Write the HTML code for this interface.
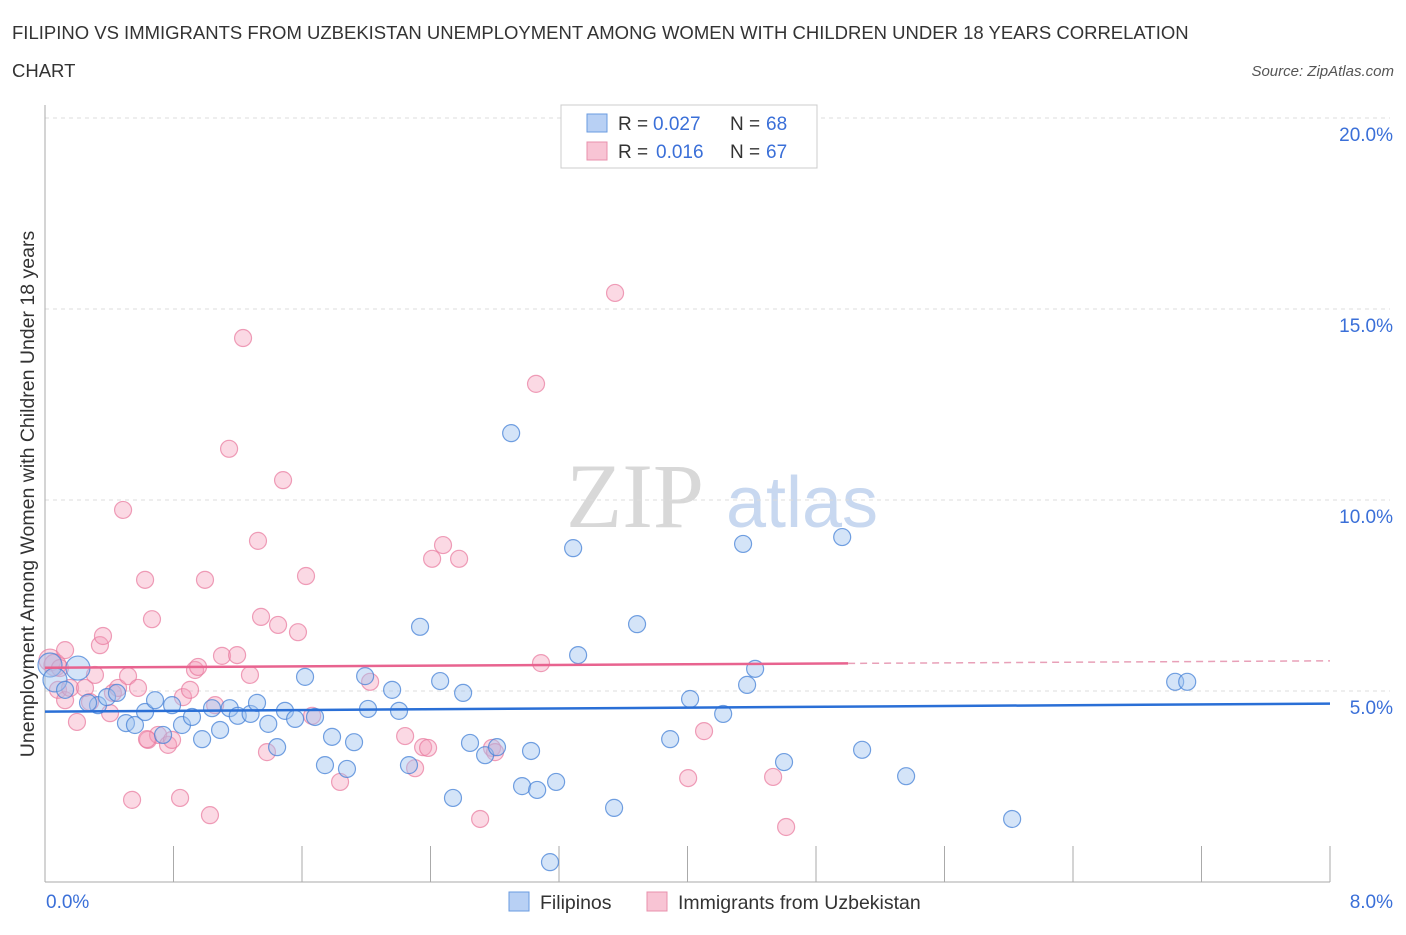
<!DOCTYPE html>
<html><head><meta charset="utf-8"><style>
body{margin:0;background:#fff;font-family:"Liberation Sans",sans-serif;}
</style></head><body>
<svg id="chart" width="1406" height="930" font-family="Liberation Sans, sans-serif">
<text x="12" y="39" font-size="18.5" fill="#333">FILIPINO VS IMMIGRANTS FROM UZBEKISTAN UNEMPLOYMENT AMONG WOMEN WITH CHILDREN UNDER 18 YEARS CORRELATION</text>
<text x="12" y="77" font-size="18.5" fill="#333">CHART</text>
<text x="1394" y="76" font-size="15" fill="#555" font-style="italic" text-anchor="end">Source: ZipAtlas.com</text>
<text x="635" y="527" font-size="92" fill="#d8d8d8" style="font-family:'Liberation Serif',serif" text-anchor="middle">ZIP</text>
<text x="802" y="527" font-size="72" fill="#c8d8f0" text-anchor="middle">atlas</text>
<g id="grid"></g>
<g id="axes"></g>
<g id="pts"></g>
<g id="trends"></g>
<text transform="translate(34,494) rotate(-90)" font-size="19.5" fill="#333" text-anchor="middle">Unemployment Among Women with Children Under 18 years</text>
<g>
<rect x="561" y="105" width="256" height="63" fill="#fff" stroke="#ccc"/>
<rect x="587" y="114" width="20" height="18" fill="#b8d0f4" stroke="#6a9be0"/>
<text x="618" y="130" font-size="19" fill="#333">R =</text>
<text x="653" y="130" font-size="19" fill="#3a6fd8">0.027</text>
<text x="730" y="130" font-size="19" fill="#333">N =</text>
<text x="766" y="130" font-size="19" fill="#3a6fd8">68</text>
<rect x="587" y="142" width="20" height="18" fill="#f8c4d4" stroke="#e890ac"/>
<text x="618" y="158" font-size="19" fill="#333">R =</text>
<text x="656" y="158" font-size="19" fill="#3a6fd8">0.016</text>
<text x="730" y="158" font-size="19" fill="#333">N =</text>
<text x="766" y="158" font-size="19" fill="#3a6fd8">67</text>
</g>
<g>
<rect x="509" y="892" width="20" height="19" fill="#b8d0f4" stroke="#6a9be0"/>
<text x="540" y="909" font-size="19.5" fill="#333">Filipinos</text>
<rect x="647" y="892" width="20" height="19" fill="#f8c4d4" stroke="#e890ac"/>
<text x="678" y="909" font-size="19.5" fill="#333">Immigrants from Uzbekistan</text>
</g>
</svg>
<script>
const yTicks=[5,10,15,20];
const yTickLabels=["5.0%","10.0%","15.0%","20.0%"];
const xTickLabels=["0.0%","8.0%"];
const blueX=[0.031,0.062,0.125,0.205,0.33,0.268,0.386,0.448,0.504,0.56,0.623,0.685,0.735,0.791,0.853,0.915,0.978,1.04,1.09,1.15,1.20,1.28,1.32,1.39,1.445,1.494,1.557,1.619,1.681,1.743,1.787,1.88,1.924,1.993,2.011,2.161,2.204,2.266,2.335,2.46,2.54,2.603,2.646,2.74,2.814,2.902,2.97,3.026,3.064,3.144,3.182,3.288,3.319,3.543,3.686,3.892,4.016,4.222,4.346,4.371,4.421,4.601,4.963,5.087,5.361,6.021,7.036,7.111];
const blueY=[5.68,5.29,5.03,5.60,4.63,4.69,4.84,4.95,4.16,4.11,4.45,4.76,3.85,4.63,4.11,4.32,3.74,4.55,3.98,4.55,4.35,4.40,4.69,4.14,3.53,4.48,4.27,5.37,4.32,3.06,3.80,2.96,3.66,5.39,4.53,5.03,4.48,3.06,6.68,5.26,2.20,4.95,3.64,3.32,3.53,11.75,2.51,3.43,2.41,0.52,2.62,8.74,5.94,1.94,6.75,3.74,4.79,4.40,8.85,5.16,5.58,3.14,9.03,3.46,2.77,1.65,5.24,5.24];
const pinkX=[0.031,0.062,0.125,0.081,0.125,0.156,0.199,0.249,0.28,0.311,0.342,0.361,0.405,0.423,0.455,0.486,0.517,0.542,0.579,0.623,0.641,0.666,0.704,0.766,0.791,0.841,0.859,0.903,0.934,0.953,0.996,1.027,1.059,1.102,1.146,1.196,1.233,1.276,1.326,1.345,1.382,1.451,1.482,1.575,1.625,1.663,1.837,2.024,2.242,2.304,2.354,2.385,2.41,2.478,2.578,2.709,2.783,2.802,3.057,3.088,3.549,4.004,4.103,4.533,4.614,0.093,0.635];
const pinkY=[5.81,5.68,6.07,5.03,4.76,5.08,4.19,5.08,4.71,5.42,6.20,6.44,4.42,4.95,5.08,9.74,5.39,2.15,5.08,7.91,3.72,6.88,3.85,3.59,3.72,2.20,4.84,5.03,5.55,5.63,7.91,1.75,4.63,5.92,11.34,5.94,14.24,5.42,8.93,6.94,3.40,6.73,10.52,6.54,8.01,4.35,2.62,5.24,3.82,2.98,3.53,3.51,8.46,8.82,8.46,1.65,3.51,3.40,13.04,5.73,15.42,2.72,3.95,2.75,1.44,5.60,3.74];
const blueTrend=[4.46,4.67];
const pinkTrend=[5.61,5.79];
const pinkSolidEnd=5.0;

const X0=45,X1=1330,Y0=882;
function sx(v){return X0+v*(X1-X0)/8;}
function sy(v){return Y0-v*38.2;}
const NS="http://www.w3.org/2000/svg";
function mk(tag,attrs,parent){const e=document.createElementNS(NS,tag);for(const k in attrs)e.setAttribute(k,attrs[k]);document.getElementById(parent).appendChild(e);return e;}

for(let i=0;i<yTicks.length;i++){
  const g=mk('line',{x1:X0,x2:1390,y1:sy(yTicks[i]),y2:sy(yTicks[i]),stroke:'#ddd','stroke-dasharray':'4,4'},'grid');
  
  
  const t=mk('text',{x:1393,y:sy(yTicks[i])+23,'text-anchor':'end','font-size':19,fill:'#3a6fd8'},'grid');
  t.textContent=yTickLabels[i];
  
  
}
const topG=mk('line',{x1:X0,x2:1390,y1:118,y2:118,stroke:'#ddd','stroke-dasharray':'4,4'},'grid');


const ya=mk('line',{x1:X0,x2:X0,y1:105,y2:Y0,stroke:'#aaa'},'axes');


const xa=mk('line',{x1:X0,x2:X1,y1:Y0,y2:Y0,stroke:'#aaa'},'axes');


for(let i=0;i<=10;i++){
  const xx=X0+i*(X1-X0)/10;
  const tk=mk('line',{x1:xx,x2:xx,y1:Y0,y2:Y0-36,stroke:'#aaa'},'axes');
  
  
}
const xl0=mk('text',{x:46,y:908,'font-size':19,fill:'#3a6fd8'},'axes');xl0.textContent=xTickLabels[0];


const xl1=mk('text',{x:1393,y:908,'font-size':19,fill:'#3a6fd8','text-anchor':'end'},'axes');xl1.textContent=xTickLabels[1];



for(let i=0;i<pinkX.length;i++){
  const c=mk('circle',{cx:sx(pinkX[i]),cy:sy(pinkY[i]),r:i<2?11:8.5,fill:'rgba(244,160,188,0.4)',stroke:'rgba(232,120,156,0.7)','stroke-width':1.2},'pts');
  
  
}
for(let i=0;i<blueX.length;i++){
  const c=mk('circle',{cx:sx(blueX[i]),cy:sy(blueY[i]),r:i<4&&i!=2?12:8.5,fill:'rgba(160,196,240,0.45)',stroke:'rgba(70,130,215,0.75)','stroke-width':1.2},'pts');
  
  
}
const bt=mk('line',{x1:sx(0),x2:sx(8),y1:sy(blueTrend[0]),y2:sy(blueTrend[1]),stroke:'#2a6fd6','stroke-width':2.5},'trends');


const pm=pinkTrend[0]+(pinkTrend[1]-pinkTrend[0])*pinkSolidEnd/8;
const pt=mk('line',{x1:sx(0),x2:sx(pinkSolidEnd),y1:sy(pinkTrend[0]),y2:sy(pm),stroke:'#e8638f','stroke-width':2.5},'trends');


const pd=mk('line',{x1:sx(pinkSolidEnd),x2:sx(8),y1:sy(pm),y2:sy(pinkTrend[1]),stroke:'#e8a0b8','stroke-width':1.5,'stroke-dasharray':'7,5'},'trends');


</script>
</body></html>
